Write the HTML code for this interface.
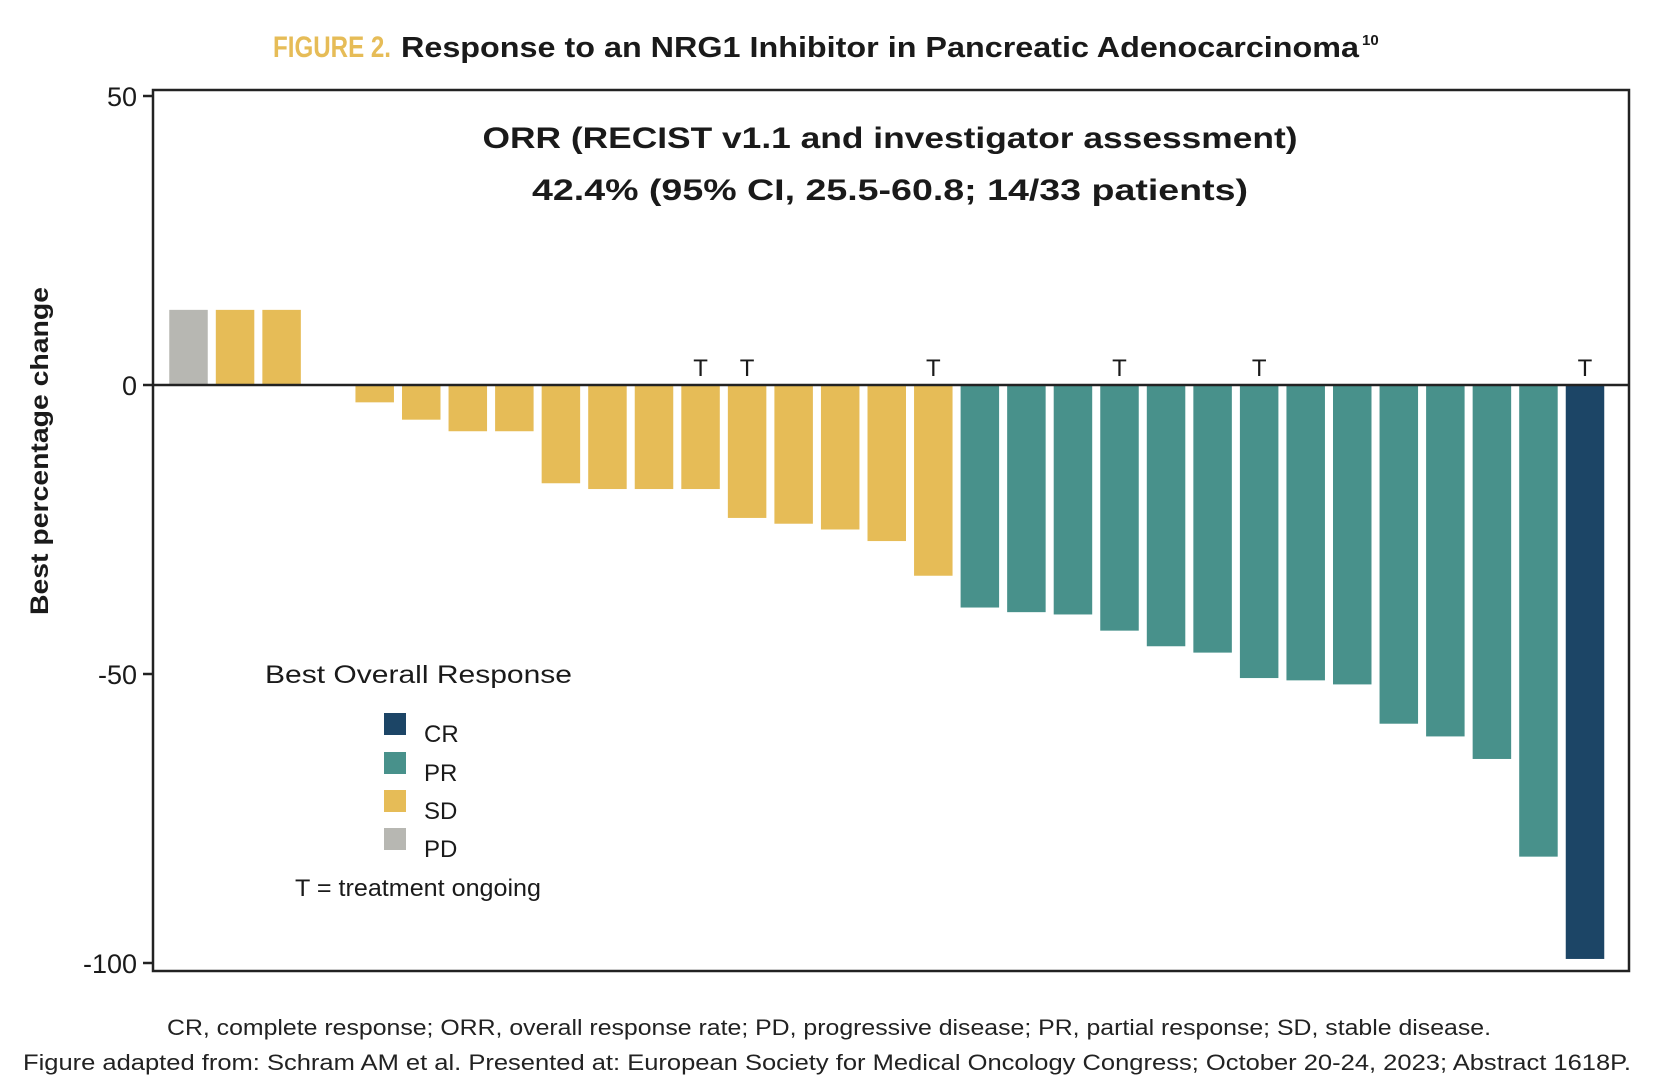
<!DOCTYPE html>
<html><head><meta charset="utf-8"><style>
html,body{margin:0;padding:0;background:#fff;}
svg{display:block;font-family:"Liberation Sans",sans-serif;}
</style></head><body>
<svg id="chart" width="1656" height="1080" viewBox="0 0 1656 1080" xmlns="http://www.w3.org/2000/svg">
<text x="273" y="57" font-size="30" font-weight="bold" fill="#E6BC57" textLength="118" lengthAdjust="spacingAndGlyphs">FIGURE 2.</text>
<text x="401" y="57" font-size="29" font-weight="bold" fill="#1a1a1a" textLength="958" lengthAdjust="spacingAndGlyphs">Response to an NRG1 Inhibitor in Pancreatic Adenocarcinoma</text>
<text x="1362" y="45" font-size="15" font-weight="bold" fill="#1a1a1a">10</text>
<rect x="153" y="90" width="1476" height="881" fill="none" stroke="#222" stroke-width="2.5"/>
<text x="890" y="148" font-size="30" font-weight="bold" text-anchor="middle" fill="#1a1a1a" textLength="815" lengthAdjust="spacingAndGlyphs">ORR (RECIST v1.1 and investigator assessment)</text>
<text x="890" y="200" font-size="30" font-weight="bold" text-anchor="middle" fill="#1a1a1a" textLength="716" lengthAdjust="spacingAndGlyphs">42.4% (95% CI, 25.5-60.8; 14/33 patients)</text>
<text transform="translate(48,451) rotate(-90)" font-size="25" font-weight="bold" text-anchor="middle" fill="#1a1a1a" textLength="328" lengthAdjust="spacingAndGlyphs">Best percentage change</text>
<g id="yticks"></g>
<g id="bars"></g>
<g id="tmarks"></g>
<line x1="153" x2="1629" y1="385" y2="385" stroke="#222" stroke-width="2.5"/>
<g>
<text x="265" y="683" font-size="25" fill="#1a1a1a" textLength="307" lengthAdjust="spacingAndGlyphs">Best Overall Response</text>
<rect x="384" y="713" width="22" height="22" fill="#1C4566"/>
<text x="424" y="742" font-size="24" fill="#1a1a1a">CR</text>
<rect x="384" y="752" width="22" height="22" fill="#48918B"/>
<text x="424" y="781" font-size="24" fill="#1a1a1a">PR</text>
<rect x="384" y="790" width="22" height="22" fill="#E6BC57"/>
<text x="424" y="819" font-size="24" fill="#1a1a1a">SD</text>
<rect x="384" y="828" width="22" height="22" fill="#B7B7B2"/>
<text x="424" y="857" font-size="24" fill="#1a1a1a">PD</text>
<text x="295" y="896" font-size="24" fill="#1a1a1a" textLength="246" lengthAdjust="spacingAndGlyphs">T = treatment ongoing</text>
</g>
<text x="829" y="1035" font-size="22" text-anchor="middle" fill="#222" textLength="1324" lengthAdjust="spacingAndGlyphs">CR, complete response; ORR, overall response rate; PD, progressive disease; PR, partial response; SD, stable disease.</text>
<text x="827" y="1070" font-size="22" text-anchor="middle" fill="#222" textLength="1608" lengthAdjust="spacingAndGlyphs">Figure adapted from: Schram AM et al. Presented at: European Society for Medical Oncology Congress; October 20-24, 2023; Abstract 1618P.</text>
</svg>
<script>
const values = [13, 13, 13, 0, -3, -6, -8, -8, -17, -18, -18, -18, -23, -24, -25, -27, -33, -38.5, -39.3, -39.7, -42.5, -45.2, -46.3, -50.7, -51.1, -51.8, -58.6, -60.8, -64.7, -81.6, -99.3];
const responses = ["PD","SD","SD","SD","SD","SD","SD","SD","SD","SD","SD","SD","SD","SD","SD","SD","SD","PR","PR","PR","PR","PR","PR","PR","PR","PR","PR","PR","PR","PR","CR"];
const ongoing = [0,0,0,0,0,0,0,0,0,0,0,1,1,0,0,0,1,0,0,0,1,0,0,1,0,0,0,0,0,0,1];
const yTicks = [50, 0, -50, -100];
const yTickLabels = ["50", "0", "-50", "-100"];

const NS = "http://www.w3.org/2000/svg";
const colors = {CR:"#1C4566", PR:"#48918B", SD:"#E6BC57", PD:"#B7B7B2"};
function yScale(v){ return 385 - (v/50)*289; }
function xScale(i){ return 188.5 + i*46.55; }
const barW = 38.5;

const yt = document.getElementById("yticks");
yTicks.forEach((t,i)=>{
  const l = document.createElementNS(NS,"line");
  
  
  l.setAttribute("x1",143); l.setAttribute("x2",153);
  l.setAttribute("y1",yScale(t)); l.setAttribute("y2",yScale(t));
  l.setAttribute("stroke","#222"); l.setAttribute("stroke-width","2.5");
  yt.appendChild(l);
  const tx = document.createElementNS(NS,"text");
  
  
  tx.setAttribute("x",137); tx.setAttribute("y",yScale(t)+10);
  tx.setAttribute("font-size","27"); tx.setAttribute("text-anchor","end"); tx.setAttribute("fill","#1a1a1a");
  tx.textContent = yTickLabels[i];
  yt.appendChild(tx);
});

const bg = document.getElementById("bars");
const tg = document.getElementById("tmarks");
values.forEach((v,i)=>{
  if (v !== 0) {
    const r = document.createElementNS(NS,"rect");
    
    
    const y0 = yScale(0), y1 = yScale(v);
    r.setAttribute("x", xScale(i)-barW/2);
    r.setAttribute("y", Math.min(y0,y1));
    r.setAttribute("width", barW);
    r.setAttribute("height", Math.abs(y1-y0));
    r.setAttribute("fill", colors[responses[i]]);
    bg.appendChild(r);
  }
  if (ongoing[i]) {
    const t = document.createElementNS(NS,"text");
    
    
    t.setAttribute("x", xScale(i)); t.setAttribute("y", yScale(0)-9);
    t.setAttribute("font-size","24"); t.setAttribute("text-anchor","middle"); t.setAttribute("fill","#1a1a1a");
    t.textContent = "T";
    tg.appendChild(t);
  }
});
</script>
</body></html>
